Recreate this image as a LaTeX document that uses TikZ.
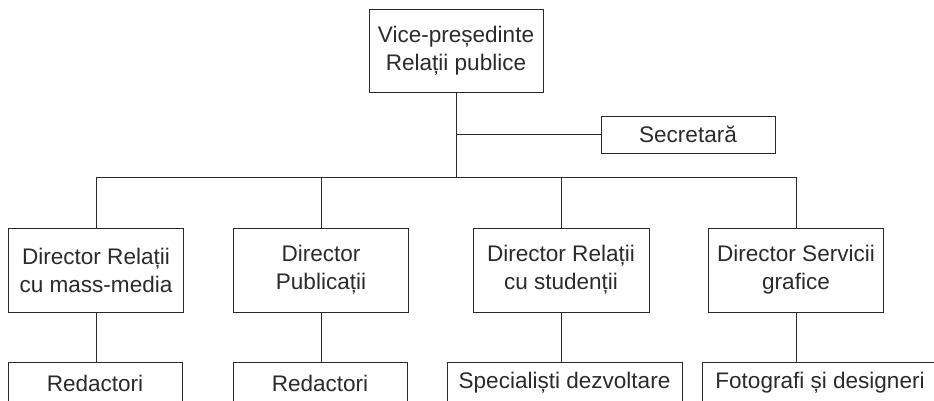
\documentclass[tikz,border=0pt]{standalone}
\usepackage{fontspec}
\setmainfont{Liberation Sans}
\usetikzlibrary{positioning}
\definecolor{inkgray}{HTML}{2A2A2A}

\begin{document}
\begin{tikzpicture}[x=0.75pt, y=-0.75pt,
    box/.style={draw=inkgray, line width=0.7pt, inner sep=0pt, align=center,
                text=inkgray, font=\fontsize{16.9}{21}\selectfont},
    wire/.style={draw=inkgray, line width=0.7pt}]
  \useasboundingbox (0,0) rectangle (934,400);

  % Top of the chart
  \node (vp) at (456,50.5) [box, minimum width=130.5pt, minimum height=62.25pt]
    {Vice-președinte\\Relații publice};
  \node (sec) at (688,134.5) [box, minimum width=130.5pt, minimum height=27.75pt]
    {Secretară};
  \coordinate (bus) at (0,177);

  % Directors
  \node (d1) at (96,270) [box, minimum width=131pt, minimum height=63pt]
    {Director Relații\\cu mass-media};
  \node (d2) at (321,270) [box, minimum width=131pt, minimum height=63pt]
    {Director\\Publicații};
  \node (d3) at (561,270) [box, minimum width=132pt, minimum height=63pt]
    {Director Relații\\cu studenții};
  \node (d4) at (796,270) [box, minimum width=131pt, minimum height=63pt]
    {Director Servicii\\grafice};

  % Staff, cut off by the lower edge
  \node (r1) at (95,383) [box, minimum width=130.5pt, minimum height=31.5pt] {Redactori};
  \node (r2) at (320,383) [box, minimum width=130.5pt, minimum height=31.5pt] {Redactori};
  \node (r3) at (564.5,383) [box, minimum width=176.25pt, minimum height=31.5pt] {Specialiști dezvoltare};
  \node (r4) at (820,383) [box, minimum width=177pt, minimum height=31.5pt] {Fotografi și designeri};

  % Connectors
  \draw[wire] (vp.south) -- (vp.south |- bus);
  \draw[wire] (vp.south |- sec.west) -- (sec.west);
  \draw[wire] (d1.north |- bus) -- (d4.north |- bus);
  \foreach \i in {1,...,4} {
    \draw[wire] (d\i.north |- bus) -- (d\i.north);
    \draw[wire] (d\i.south) -- (d\i.south |- r\i.north);
  }
\end{tikzpicture}
\end{document}
